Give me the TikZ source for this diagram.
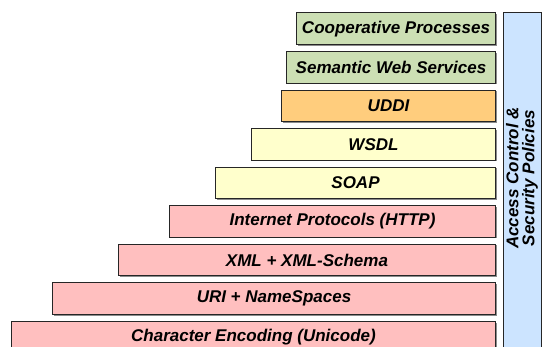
\documentclass[tikz,border=0pt]{standalone}
\usepackage{fontspec}
\setmainfont{Liberation Sans}
\usetikzlibrary{shadows}
\definecolor{layergreen}{RGB}{204,223,180}
\definecolor{layerorange}{RGB}{255,205,125}
\definecolor{layeryellow}{RGB}{255,255,204}
\definecolor{layerpink}{RGB}{255,191,191}
\definecolor{layerblue}{RGB}{204,228,255}
\tikzset{
  layer/.style={draw=black!85, line width=1pt, rectangle, inner sep=0pt,
    anchor=north west, font=\fontsize{17}{19}\selectfont\bfseries\itshape,
    drop shadow={shadow xshift=1.2pt, shadow yshift=-1.2pt, fill=black!45, opacity=1}},
}
\newcommand{\layerbox}[5]{% name, left, top index, colour, text
  \pgfmathsetmacro{\ltop}{12.5+38.55*#3}
  \node[layer, fill=#4, minimum width={(495-#2)*1pt}, minimum height=31.5pt]
    (#1) at (#2pt,-\ltop pt) {#5};
}
\begin{document}
\begin{tikzpicture}[x=1pt,y=1pt]
\useasboundingbox (0,0) rectangle (544,-347);
\layerbox{coop}{296}{0}{layergreen}{Cooperative Processes}
\layerbox{sws}{286}{1}{layergreen}{Semantic Web Services}
\layerbox{uddi}{281}{2}{layerorange}{UDDI}
\layerbox{wsdl}{251}{3}{layeryellow}{WSDL}
\layerbox{soap}{215}{4}{layeryellow}{SOAP}
\layerbox{http}{169}{5}{layerpink}{Internet Protocols (HTTP)}
\layerbox{xml}{118}{6}{layerpink}{XML + XML-Schema}
\layerbox{uri}{52}{7}{layerpink}{URI + NameSpaces}
\layerbox{enc}{11}{8}{layerpink}{Character Encoding (Unicode)}
% security column on the right
\node[draw=black!85, line width=1pt, fill=layerblue, rectangle, inner sep=0pt,
  anchor=north west, minimum width=38pt, minimum height=360pt] (sec) at (503,-12.5) {};
\node[rotate=90, align=center, font=\fontsize{17}{16}\selectfont\bfseries\itshape]
  (seclabel) at (522,-178) {Access Control \&\\Security Policies};
\end{tikzpicture}
\end{document}
